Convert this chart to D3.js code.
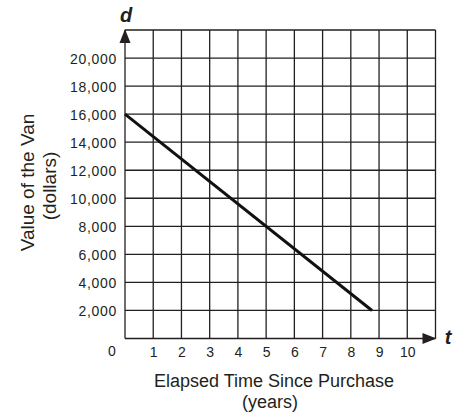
<!DOCTYPE html>
<html>
<head>
<meta charset="utf-8">
<script src="https://cdn.jsdelivr.net/npm/d3@7"></script>
<style>
  body { margin: 0; background: #fff; }
  svg { display: block; }
  text { font-family: "Liberation Sans", Arial, Helvetica, sans-serif; fill: #231f20; }
</style>
</head>
<body>
<svg id="chart" width="461" height="416"></svg>
<script>
// DATA
const years = [0, 8.75];
const vanValues = [16000, 2000];
const xTickValues = [1, 2, 3, 4, 5, 6, 7, 8, 9, 10];
const yTickValues = [2000, 4000, 6000, 8000, 10000, 12000, 14000, 16000, 18000, 20000];
const xTitle = ["Elapsed Time Since Purchase", "(years)"];
const yTitle = ["Value of the Van", "(dollars)"];

// CANVAS SETUP
const svg = d3.select("#chart");
const ink = "#231f20";

const xScale = d3.scaleLinear().domain([0, 11]).range([125, 435.5]);
const yScale = d3.scaleLinear().domain([0, 22000]).range([338.5, 30]);

// GRID
const grid = svg.append("g").attr("stroke", ink).attr("stroke-width", 1.3);

grid.selectAll(".vline")
  .data(d3.range(0, 12))
  .join("line")
  .attr("x1", (d) => xScale(d))
  .attr("x2", (d) => xScale(d))
  .attr("y1", yScale(22000))
  .attr("y2", yScale(0));

grid.selectAll(".hline")
  .data(d3.range(0, 22001, 2000))
  .join("line")
  .attr("y1", (d) => yScale(d))
  .attr("y2", (d) => yScale(d))
  .attr("x1", xScale(0))
  .attr("x2", xScale(11));

// AXES LABELS
const gy = svg.append("g")
  .attr("transform", `translate(${xScale(0)},0)`)
  .call(d3.axisLeft(yScale).tickValues(yTickValues).tickFormat(d3.format(",")).tickSize(0).tickPadding(8));
gy.select(".domain").remove();
gy.selectAll("text")
  .attr("font-size", 14)
  .attr("font-family", "Liberation Sans, Arial, sans-serif")
  .attr("fill", ink)
  .style("letter-spacing", "0.7px")
  .attr("dy", "0.36em");

const gx = svg.append("g")
  .attr("transform", `translate(0,${yScale(0)})`)
  .call(d3.axisBottom(xScale).tickValues(xTickValues).tickSize(0).tickPadding(9));
gx.select(".domain").remove();
gx.selectAll("text")
  .attr("font-size", 14)
  .attr("font-family", "Liberation Sans, Arial, sans-serif")
  .attr("fill", ink);

svg.append("text")
  .attr("x", 112)
  .attr("y", 356)
  .attr("text-anchor", "middle")
  .attr("font-size", 14)
  .text("0");

// AXIS ARROWS
svg.append("path")
  .attr("d", `M${xScale(0)},${yScale(22000) - 1} l-5.5,14 l11,0 Z`)
  .attr("fill", ink);
svg.append("path")
  .attr("d", `M${xScale(11) + 1},${yScale(0)} l-14,-5.5 l0,11 Z`)
  .attr("fill", ink);

svg.append("text")
  .attr("x", xScale(0) + 1)
  .attr("y", 22)
  .attr("text-anchor", "middle")
  .attr("font-family", "Liberation Serif, DejaVu Serif, serif")
  .attr("font-style", "italic")
  .attr("font-weight", "bold")
  .attr("font-size", 20)
  .text("d");

svg.append("text")
  .attr("x", 448)
  .attr("y", 344)
  .attr("text-anchor", "middle")
  .attr("font-family", "Liberation Serif, DejaVu Serif, serif")
  .attr("font-style", "italic")
  .attr("font-weight", "bold")
  .attr("font-size", 20)
  .text("t");

// DATA LINE
const line = d3.line()
  .x((d) => xScale(d[0]))
  .y((d) => yScale(d[1]));

svg.append("path")
  .datum(d3.zip(years, vanValues))
  .attr("d", line)
  .attr("fill", "none")
  .attr("stroke", "#111")
  .attr("stroke-width", 3);

// TITLES
svg.append("text")
  .attr("x", 274)
  .attr("y", 387)
  .attr("text-anchor", "middle")
  .attr("font-size", 18)
  .text(xTitle[0]);
svg.append("text")
  .attr("x", 270)
  .attr("y", 408)
  .attr("text-anchor", "middle")
  .attr("font-size", 18)
  .text(xTitle[1]);

svg.append("text")
  .attr("transform", "translate(33.5,182.5) rotate(-90)")
  .attr("text-anchor", "middle")
  .attr("font-size", 19)
  .text(yTitle[0]);
svg.append("text")
  .attr("transform", "translate(55.5,186) rotate(-90)")
  .attr("text-anchor", "middle")
  .attr("font-size", 19)
  .text(yTitle[1]);
</script>
</body>
</html>
